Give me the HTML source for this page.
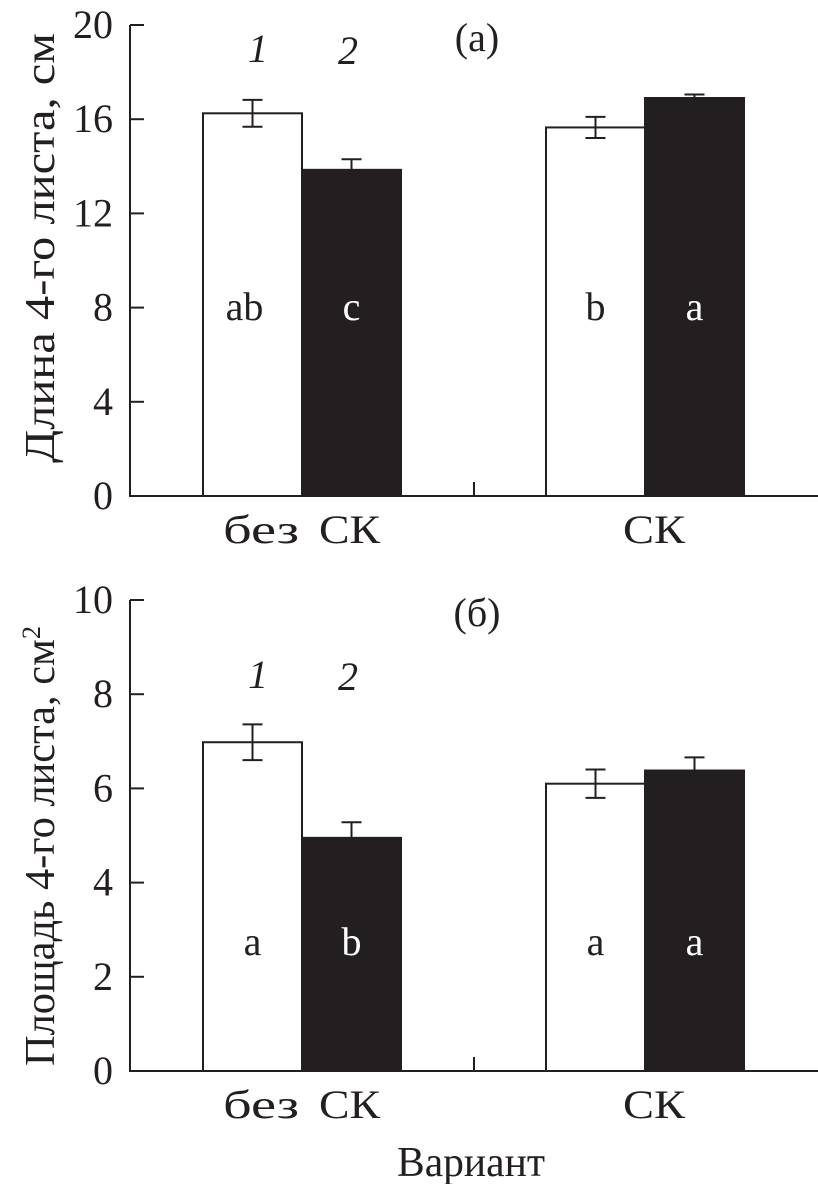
<!DOCTYPE html>
<html><head><meta charset="utf-8">
<style>
html,body{margin:0;padding:0;background:#fff;}
svg text{font-family:"Liberation Serif","DejaVu Serif",serif;fill:#231f20;}
</style></head>
<body>
<svg id="chart" width="818" height="1184" viewBox="0 0 818 1184" xmlns="http://www.w3.org/2000/svg"></svg>
<script>
const categories = ["без СК", "СК"];
const lengthWhite = [16.25, 15.65];
const lengthWhiteErr = [0.57, 0.45];
const lengthBlack = [13.85, 16.9];
const lengthBlackErr = [0.45, 0.15];
const lengthLetters = [["ab","c"],["b","a"]];
const lengthTicks = [0,4,8,12,16,20];
const areaWhite = [6.98, 6.1];
const areaWhiteErr = [0.38, 0.3];
const areaBlack = [4.95, 6.38];
const areaBlackErr = [0.33, 0.28];
const areaLetters = [["a","b"],["a","a"]];
const areaTicks = [0,2,4,6,8,10];

const svg = document.getElementById('chart');
const NS = 'http://www.w3.org/2000/svg';
function mk(tag, attrs, parent){
  const e = document.createElementNS(NS, tag);
  for (const k in attrs) e.setAttribute(k, attrs[k]);
  (parent||svg).appendChild(e);
  return e;
}
const groupStarts = [203, 546];
const barW = 99;

function panel(cfg){
  const g = mk('g', {});
  
  
  const y = v => cfg.y0 - v / cfg.max * (cfg.y0 - cfg.yTop);
  const ya = mk('line', {x1:130, y1:cfg.yTop, x2:130, y2:cfg.y0, stroke:'#231f20','stroke-width':2}, g);
  
  
  const xa = mk('line', {x1:129, y1:cfg.y0, x2:818, y2:cfg.y0, stroke:'#231f20','stroke-width':2}, g);
  
  
  const mt = mk('line', {x1:474, y1:cfg.y0, x2:474, y2:cfg.y0-14, stroke:'#231f20','stroke-width':2}, g);
  
  
  cfg.ticks.forEach(t => {
    const ty = y(t);
    const tl = mk('line', {x1:130, y1:ty, x2:144, y2:ty, stroke:'#231f20','stroke-width':2}, g);
    
    
    const tx = mk('text', {x:113, y:ty+13, 'font-size':40, 'text-anchor':'end'}, g);
    
    
    tx.textContent = t;
  });
  categories.forEach((c, i) => {
    const x0 = groupStarts[i];
    [[cfg.white, cfg.whiteErr, '#fff', true], [cfg.black, cfg.blackErr, '#231f20', false]].forEach((s, j) => {
      const v = s[0][i], e = s[1][i];
      const bx = x0 + j*barW;
      const r = mk('rect', {x:bx, y:y(v), width:barW, height:cfg.y0 - y(v), fill:s[2], stroke:'#231f20','stroke-width':2}, g);
      
      
      const cx = bx + barW/2;
      const lowV = s[3] ? v - e : v;
      const eb = mk('path', {d:`M${cx},${y(lowV)}V${y(v+e)}M${cx-10},${y(v+e)}H${cx+10}` + (s[3] ? `M${cx-10},${y(v-e)}H${cx+10}` : ''), stroke:'#231f20','stroke-width':2, fill:'none'}, g);
      
      
      const txt = cfg.letters[i][j];
      const lt = mk('text', {x: txt.length > 1 ? cx - 8 : cx, y:cfg.letterY, 'font-size':40, 'text-anchor':'middle'}, g);
      if (j===1) lt.setAttribute('style', 'fill:#fff');
      
      
      lt.textContent = txt;
    });
    const words = c.split(' ');
    const center = x0 + barW;
    if (words.length === 2) {
      const w1 = mk('text', {x: center - 79, y: cfg.y0 + 47, 'font-size':40, textLength:76, lengthAdjust:'spacingAndGlyphs'}, g);
      
      
      w1.textContent = words[0];
      const w2 = mk('text', {x: center + 17, y: cfg.y0 + 47, 'font-size':40, textLength:61, lengthAdjust:'spacingAndGlyphs'}, g);
      
      
      w2.textContent = words[1];
    } else {
      const w = mk('text', {x: center - 22, y: cfg.y0 + 47, 'font-size':40, textLength:62, lengthAdjust:'spacingAndGlyphs'}, g);
      
      
      w.textContent = c;
    }
  });
  const pl = mk('text', {x:477, y:cfg.yTop+26, 'font-size':40, 'text-anchor':'middle'}, g);
  
  
  pl.textContent = cfg.panel;
  [['1',258],['2',348]].forEach((n, k) => {
    const t = mk('text', {x:n[1], y:cfg.numY + k*2, 'font-size':40, 'font-style':'italic', 'text-anchor':'middle'}, g);
    
    
    t.textContent = n[0];
  });
  const yt = mk('text', {x:0, y:0, 'font-size':42, 'text-anchor':'middle', textLength:cfg.titleLen, lengthAdjust:'spacingAndGlyphs', transform:`translate(${cfg.titleX},${cfg.titleY}) rotate(-90)`}, g);
  
  
  yt.innerHTML = cfg.title;
}

panel({name:'panel-a-leaf-length', yTop:25, y0:496, max:20, ticks:lengthTicks, white:lengthWhite, whiteErr:lengthWhiteErr, black:lengthBlack, blackErr:lengthBlackErr, letters:lengthLetters, letterY:320, numY:62, panel:'(а)', titleX:54, titleY:248, titleLen:430, title:'Длина 4-го листа, см'});
panel({name:'panel-b-leaf-area', yTop:600, y0:1071, max:10, ticks:areaTicks, white:areaWhite, whiteErr:areaWhiteErr, black:areaBlack, blackErr:areaBlackErr, letters:areaLetters, letterY:955, numY:688, panel:'(б)', titleX:54, titleY:846, titleLen:440, title:'Площадь 4-го листа, см<tspan dy="-14" font-size="26">2</tspan>'});

const xt = mk('text', {x:471, y:1176, 'font-size':42, 'text-anchor':'middle', textLength:148, lengthAdjust:'spacingAndGlyphs'});


xt.textContent = 'Вариант';
</script>
</body></html>
